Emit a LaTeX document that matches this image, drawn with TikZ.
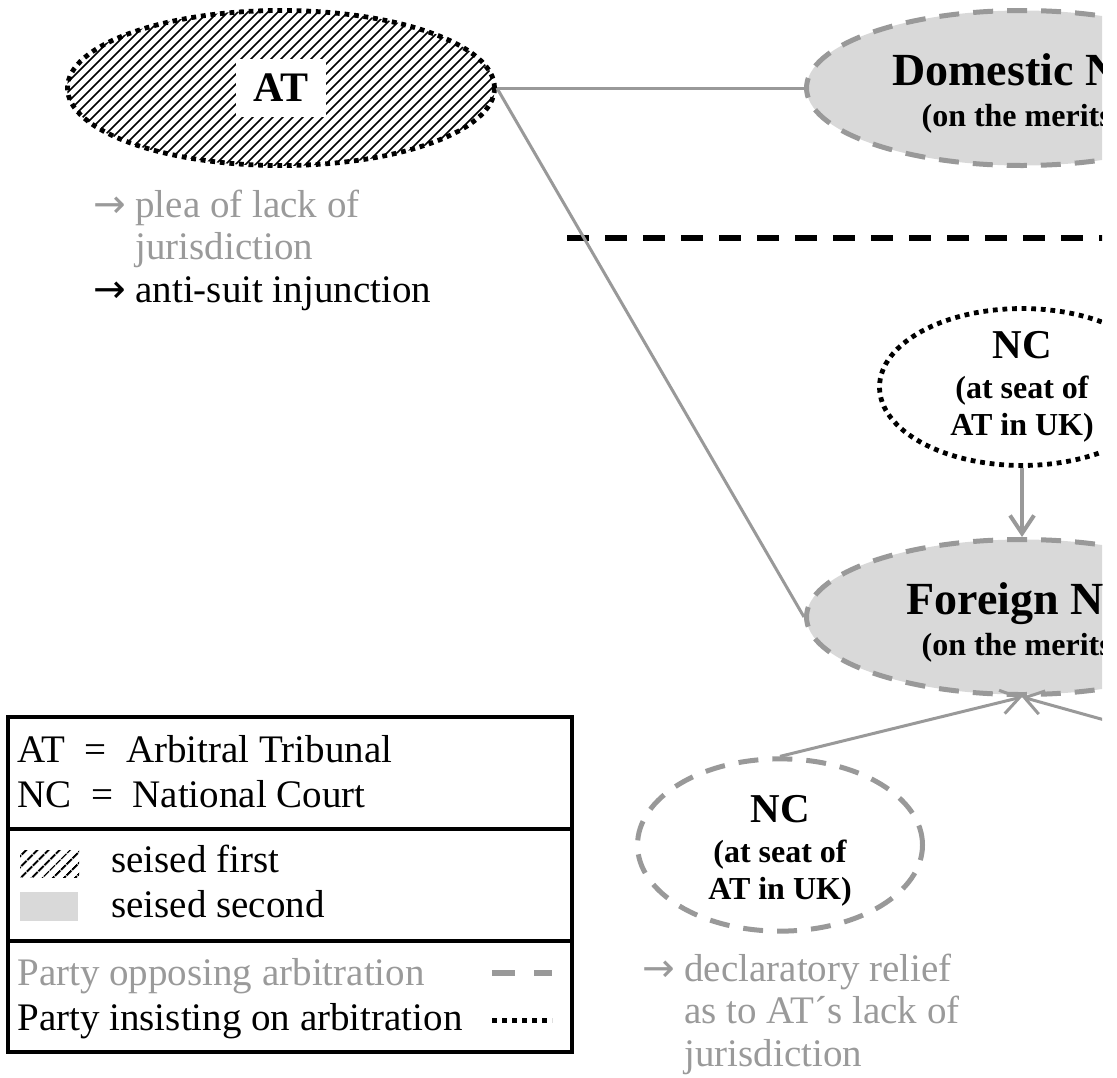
\documentclass[tikz,border=0pt]{standalone}
\usepackage{fontspec}
\setmainfont{Liberation Serif}
\newfontfamily\arrowfont{DejaVu Sans}
\usepackage{xcolor}
\usetikzlibrary{positioning,arrows.meta,shapes.geometric,patterns.meta}
\definecolor{greyline}{HTML}{999999}
\definecolor{greyfill}{HTML}{D9D9D9}
\definecolor{greytext}{HTML}{9A9A9A}
\newcommand{\remarrow}[1]{\makebox[21pt][l]{\color{#1}\arrowfont →}}
\tikzset{
>={Straight Barb[length=9pt,width=12pt]},
  dotborder/.style={draw=black, line width=2.4pt, dash pattern=on 2.4pt off 2.4pt},
  dashborder/.style={draw=greyline, line width=2.5pt, dash pattern=on 10pt off 7pt},
  tribunal/.style={
    ellipse, dotborder,
    minimum width=213.5pt,
    minimum height=77.5pt,
    inner sep=0pt},
  meritcourt/.style={
    ellipse, dashborder,
    fill=greyfill,
    minimum width=215.5pt,
    minimum height=77.5pt,
    inner sep=0pt,
    align=center,
    font=\bfseries\fontsize{16}{20.5}\selectfont},
  seatcourt/.style={
    ellipse,
    minimum width=142.5pt,
    inner sep=0pt,
    align=center,
    font=\bfseries\fontsize{16}{18.5}\selectfont},
  conn/.style={draw=greyline, line width=1.5pt},
  note/.style={anchor=base west, inner sep=0pt,
    font=\fontsize{19.5}{21.3}\selectfont},
  legtext/.style={anchor=base west, inner sep=0pt,
    font=\fontsize{19.5}{22.5}\selectfont}
}

\begin{document}
\begin{tikzpicture}[x=0.5pt,y=-0.5pt]
    \useasboundingbox (0,0) rectangle (1117,1077);
    \begin{scope}
    \clip (0,0) rectangle (1102,1077);

    % courts and tribunal
    \coordinate (ATc) at (281,88);
    \begin{scope}
      \clip (ATc) ellipse [x radius=214, y radius=78];
      \foreach \k in {0,...,64}
        \draw[line width=0.8pt] (-130+10*\k,180) -- ++(190,-190);
    \end{scope}
    \node[tribunal] (AT) at (ATc) {};
    \node[fill=white, minimum width=45pt, minimum height=29pt, inner sep=0pt,
          font=\bfseries\fontsize{21}{21}\selectfont] (ATlbl) at (AT) {AT};

    \node[meritcourt] (dom) at (1022,88)
        {\rule{0pt}{21pt}{\fontsize{23}{23}\selectfont Domestic NC}\\(on the merits)};
    \node[meritcourt] (foreign) at (1022,617)
        {\rule{0pt}{21pt}{\fontsize{23}{23}\selectfont Foreign NC}\\(on the merits)};

    \node[seatcourt, dotborder, minimum height=75.5pt] (ncup) at (1022,387)
        {{\fontsize{20.5}{20.5}\selectfont NC}\\[1.5pt](at seat of\\AT in UK)};
    \node[seatcourt, dashborder, minimum height=80pt] (nclow) at (780,845)
        {\rule{0pt}{19pt}{\fontsize{20.5}{20.5}\selectfont NC}\\[1.5pt](at seat of\\AT in UK)};

    \coordinate (offR) at (1180,741);
    \coordinate (sepL) at (567,238);
    \coordinate (sepR) at (1110,238);

    \draw[line width=3pt, dash pattern=on 11pt off 8pt] (sepL) -- (sepR);

    \draw[conn] (AT.east) -- (dom.west);
    \draw[conn] (AT.east) -- (foreign.west);
    \draw[conn, ->, line width=2pt] (ncup.south) -- (foreign.north);
    \draw[conn, ->] (nclow.north) -- (foreign.south);
    \draw[conn, ->] (offR) -- (foreign.south);

    % remedies
    \node[note] (ATnote) at (93,217) {\begin{tabular}[t]{@{}l@{}l@{}}
        \remarrow{greytext} & \color{greytext}plea of lack of\\
          & \color{greytext}jurisdiction\\
        \remarrow{black} & anti-suit injunction
      \end{tabular}};
    \node[note] (NCnote) at (642,981) {\begin{tabular}[t]{@{}l@{}l@{}}
        \remarrow{greytext} & \color{greytext}declaratory relief\\
          & \color{greytext}as to AT´s lack of\\
          & \color{greytext}jurisdiction
      \end{tabular}};

    % legend
    \coordinate (K1) at (8,717);
    \coordinate (K2) at (572,717);
    \coordinate (K3) at (572,1052);
    \coordinate (K4) at (8,1052);
    \coordinate (K5) at (8,829);
    \coordinate (K6) at (572,829);
    \coordinate (K7) at (8,941);
    \coordinate (K8) at (572,941);

    \draw[line width=2pt] (K1) -- (K2)
                            -- (K3)
                            -- (K4)
                            -- (K1) -- cycle;
    \draw[line width=2pt] (K5) -- (K6);
    \draw[line width=2pt] (K7) -- (K8);

    \node[legtext] (abbr) at (17,762) {\begin{tabular}[t]{@{}l@{}}
        AT\ \ =\ \ Arbitral Tribunal\\
        NC\ \ =\ \ National Court
      \end{tabular}};
    \fill[pattern={Lines[angle=45,distance=4pt,line width=1.1pt]}]
        (20,850) rectangle (79,877);
    \fill[greyfill] (20,892) rectangle (78,921);
    \node[legtext] (seised) at (111,872) {\begin{tabular}[t]{@{}l@{}}
        seised first\\
        seised second
      \end{tabular}};
    \node[legtext] (party) at (17,985) {\begin{tabular}[t]{@{}l@{}}
        \color{greytext}Party opposing arbitration\\
        Party insisting on arbitration
      \end{tabular}};
    \draw[greyline, line width=3pt, dash pattern=on 11.5pt off 9.5pt]
        (492,973) -- (552,973);
    \draw[line width=2.5pt, dash pattern=on 2.5pt off 2.5pt]
        (492,1020) -- (552,1020);
    \end{scope}
\end{tikzpicture}
\end{document}
